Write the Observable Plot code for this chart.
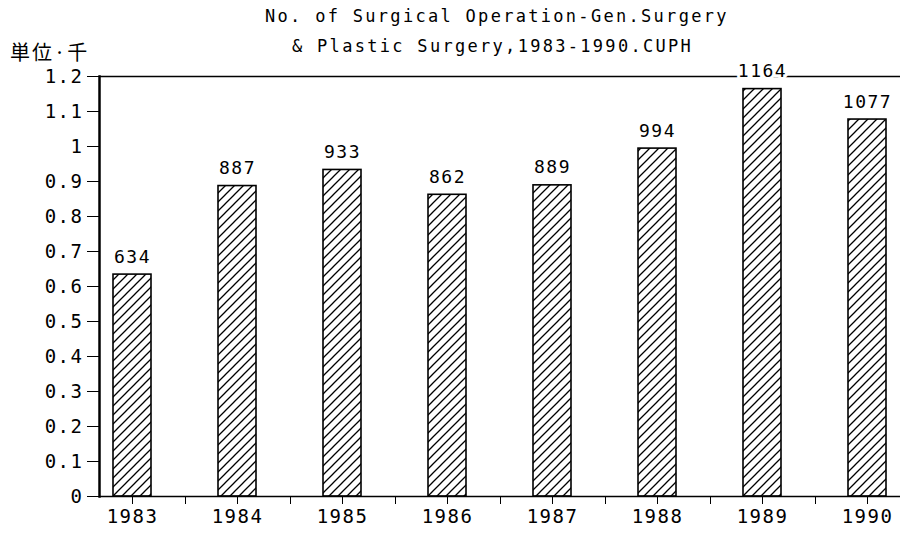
<!DOCTYPE html>
<html><head><meta charset="utf-8">
<script src="https://cdn.jsdelivr.net/npm/d3@7"></script>
<script src="https://cdn.jsdelivr.net/npm/@observablehq/plot@0.6"></script>
<style>
body{margin:0;background:#fff;width:902px;height:538px;overflow:hidden;font-family:"DejaVu Sans Mono",monospace;color:#000;}
#head{position:relative;height:60px;}
.t{position:absolute;font-size:17px;letter-spacing:2.3px;white-space:nowrap;}
#unit{position:absolute;left:10px;top:37px;font-family:"Noto Sans CJK JP";font-size:20px;letter-spacing:2px;white-space:nowrap;}
</style></head><body>
<svg width="0" height="0" style="position:absolute"><defs><pattern id="hatch" patternUnits="userSpaceOnUse" width="9" height="9"><path d="M-2,2 l4,-4 M0,9 l9,-9 M7,11 l4,-4" stroke="#000" stroke-width="1.3"/></pattern></defs></svg>
<div id="head">
<div class="t" style="left:265px;top:6px">No. of Surgical Operation-Gen.Surgery</div>
<div class="t" style="left:292px;top:36px">&amp; Plastic Surgery,1983-1990.CUPH</div>
<div id="unit">単位·千</div>
</div>
<div id="chart"></div>
<script>
const years = ["1983","1984","1985","1986","1987","1988","1989","1990"];
const counts = [634, 887, 933, 862, 889, 994, 1164, 1077];
const yTicks = [0,0.1,0.2,0.3,0.4,0.5,0.6,0.7,0.8,0.9,1,1.1,1.2];

const data = years.map((year, i) => ({year, count: counts[i]}));

const chart = Plot.plot({
  width: 902, height: 478,
  marginLeft: 99, marginRight: 2, marginTop: 16, marginBottom: 42,
  x: {domain: years, paddingInner: 0.64, paddingOuter: 0.1, label: null},
  y: {domain: [0, 1.2], label: null},
  style: {fontFamily: "DejaVu Sans Mono", fontSize: "19px", color: "#000", background: "#fff", letterSpacing: "1.5px"},
  marks: [
    Plot.barY(data, {x: "year", y: d => d.count / 1000, fill: "url(#hatch)", stroke: "#000", strokeWidth: 1.6}),
    Plot.ruleY([0], {stroke: "#000", strokeWidth: 1.6}),
    Plot.ruleY([1.2], {stroke: "#000", strokeWidth: 1.6}),
    Plot.frame({anchor: "left", stroke: "#000", strokeWidth: 2.5}),
    Plot.axisY({ticks: yTicks, tickSize: 12, tickPadding: 4, tickFormat: d => String(+d.toFixed(1))}),
    Plot.axisX({tickSize: 8, tickPadding: 5}),
    Plot.axisX(years.slice(0, -1), {tickSize: 8, tickFormat: () => "", dx: 53}),
    Plot.text(data, {x: "year", y: d => d.count / 1000, text: d => String(d.count), dy: -12, lineAnchor: "bottom", fontSize: 18, fill: "#000", stroke: "#fff", strokeWidth: 6})
  ]
});
document.getElementById("chart").appendChild(chart);
</script>
</body></html>
